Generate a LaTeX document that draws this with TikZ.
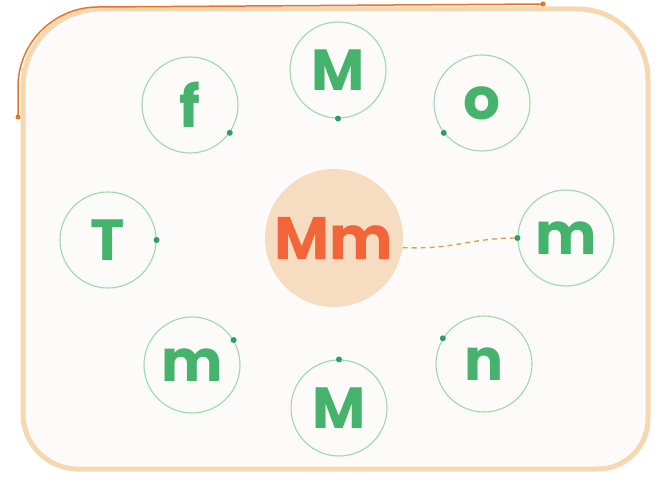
\documentclass[tikz,border=0pt]{standalone}
\usepackage{fontspec}
\setmainfont{Poppins}
\definecolor{beige}{HTML}{F5D8B0}
\definecolor{innerbg}{HTML}{FDFBF9}
\definecolor{orangeline}{HTML}{E8742A}
\definecolor{ringgreen}{HTML}{9FD8AA}
\definecolor{lettergreen}{HTML}{45B36B}
\definecolor{dotgreen}{HTML}{2E9C6E}
\definecolor{centerfill}{HTML}{F6DCC0}
\definecolor{centertext}{HTML}{F2643A}
\definecolor{dashcol}{HTML}{E3A83C}
\tikzset{
  ring/.style={circle, draw=ringgreen, line width=1.1pt, minimum size=96pt, inner sep=0pt,
    text=lettergreen, font=\fontsize{58}{58}\selectfont\bfseries},
  hub/.style={circle, fill=centerfill, minimum size=138pt, inner sep=0pt,
    text=centertext, font=\fontsize{60}{60}\selectfont\bfseries},
  ringdot/.style={fill=dotgreen},
  frame/.style={draw=beige, line width=5pt, fill=innerbg, line join=round},
  topline/.style={draw=orangeline, line width=1.5pt},
  link/.style={draw=dashcol, line width=1.4pt, dash pattern=on 5pt off 4pt}
}
\begin{document}
\begin{tikzpicture}[x=1pt,y=1pt]
\useasboundingbox (0,0) rectangle (662,480);
\fill[white] (0,0) rectangle (662,480);
% frame
\path[frame] (23,66) -- (23,393) arc[start angle=180,end angle=90,radius=78]
  -- (578,471) arc[start angle=90,end angle=0,radius=70]
  -- (648,61) arc[start angle=0,end angle=-90,radius=50]
  -- (78,11) arc[start angle=270,end angle=180,radius=55] -- cycle;
% orange top line
\coordinate (oA) at (18,363);
\coordinate (oB) at (543,476);
\draw[topline] (oA) -- (18,393) arc[start angle=180,end angle=90,radius=80] -- (oB);
\fill[orangeline] (oA) circle (2.5pt);
\fill[orangeline] (oB) circle (2.5pt);
% nodes
\node[hub] (C) at (334,242) {Mm};
\node[ring] (f) at (190,375) {f};
\node[ring] (Mt) at (338,410) {M};
\node[ring] (o) at (482,377) {o};
\node[ring] (T) at (108,240) {T};
\node[ring] (mR) at (566,242) {m};
\node[ring] (mL) at (192,115) {m};
\node[ring] (Mb) at (339,72) {M};
\node[ring] (n) at (484,116) {n};
% dashed connector
\draw[link] (C.-8) .. controls +(55,-2) and +(-50,0) .. (mR.180);
% dots
\foreach \nd/\ang in {f/-35, Mt/-90, o/-142, T/0, mR/180, mL/31, Mb/90, n/148}
  \fill[ringdot] (\nd.\ang) circle (3pt);
\end{tikzpicture}
\end{document}
